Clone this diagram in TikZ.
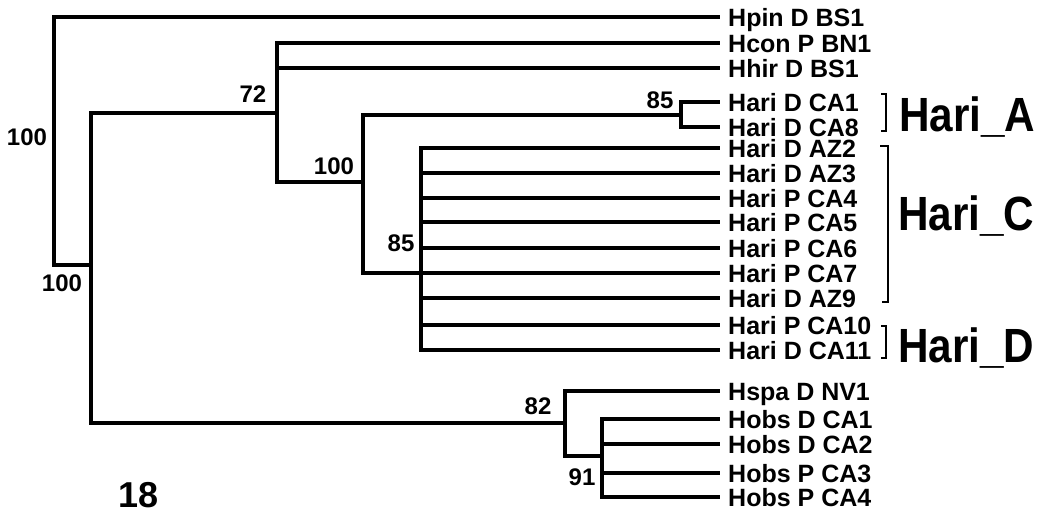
\documentclass[tikz,border=0pt]{standalone}
\usepackage{fontspec}
\setmainfont{Liberation Sans}
\usepackage{graphicx}
\tikzset{
  branch/.style={line width=3.2pt, line join=miter, line cap=butt},
  leaf/.style={anchor=west, inner xsep=8pt, inner ysep=0pt, text height=18pt, text depth=0pt, font=\fontsize{25}{25}\selectfont\bfseries},
  boot/.style={inner sep=0pt, text height=17pt, text depth=0pt, font=\fontsize{24}{24}\selectfont\bfseries},
  clade/.style={anchor=base west, inner sep=0pt, font=\fontsize{48}{48}\selectfont\bfseries},
  brk/.style={line width=1.2pt, line join=miter}
}
\begin{document}
\begin{tikzpicture}[x=1pt,y=-1pt]
\useasboundingbox (0,0) rectangle (1052,517);
% leaves
\node[leaf] (hpin) at (720,17) {Hpin D BS1};
\node[leaf] (hcon) at (720,43) {Hcon P BN1};
\node[leaf] (hhir) at (720,68) {Hhir D BS1};
\node[leaf] (ca1) at (720,102) {Hari D CA1};
\node[leaf] (ca8) at (720,127) {Hari D CA8};
\node[leaf] (az2) at (720,148) {Hari D AZ2};
\node[leaf] (az3) at (720,173) {Hari D AZ3};
\node[leaf] (ca4) at (720,198) {Hari P CA4};
\node[leaf] (ca5) at (720,222) {Hari P CA5};
\node[leaf] (ca6) at (720,248) {Hari P CA6};
\node[leaf] (ca7) at (720,273) {Hari P CA7};
\node[leaf] (az9) at (720,298) {Hari D AZ9};
\node[leaf] (ca10) at (720,325) {Hari P CA10};
\node[leaf] (ca11) at (720,350) {Hari D CA11};
\node[leaf] (hspa) at (720,391) {Hspa D NV1};
\node[leaf] (ob1) at (720,419) {Hobs D CA1};
\node[leaf] (ob2) at (720,444) {Hobs D CA2};
\node[leaf] (ob3) at (720,473) {Hobs P CA3};
\node[leaf] (ob4) at (720,497) {Hobs P CA4};
% internal nodes
\coordinate (n0) at (54,141);
\coordinate (n1) at (91,265);
\coordinate (n2) at (277,113);
\coordinate (n3) at (363,182);
\coordinate (nA) at (681,115);
\coordinate (nCD) at (421,273);
\coordinate (n5) at (565,423);
\coordinate (n6) at (602,456);
% branches
\draw[branch] (n0) |- (hpin.west);
\draw[branch] (n0) |- (n1);
\draw[branch] (n1) |- (n2);
\draw[branch] (n1) |- (n5);
\draw[branch] (n2) |- (hcon.west);
\draw[branch] (n2) |- (hhir.west);
\draw[branch] (n2) |- (n3);
\draw[branch] (n3) |- (nA);
\draw[branch] (n3) |- (nCD);
\draw[branch] (nA) |- (ca1.west);
\draw[branch] (nA) |- (ca8.west);
\foreach \l in {az2,az3,ca4,ca5,ca6,ca7,az9,ca10,ca11}
  \draw[branch] (nCD) |- (\l.west);
\draw[branch] (n5) |- (hspa.west);
\draw[branch] (n5) |- (n6);
\foreach \l in {ob1,ob2,ob3,ob4}
  \draw[branch] (n6) |- (\l.west);
% bootstrap values
\node[boot] (b0) at (27,137) {100};
\node[boot] (b1) at (62,283) {100};
\node[boot] (b2) at (253,94) {72};
\node[boot] (b3) at (334,166) {100};
\node[boot] (bA) at (660,100) {85};
\node[boot] (bCD) at (401,243) {85};
\node[boot] (b5) at (538,406) {82};
\node[boot] (b6) at (582,477) {91};
\node[inner sep=0pt, font=\fontsize{36}{36}\selectfont\bfseries] (fig) at (139,495) {18};
% clade brackets
\draw[brk] (881,94) -- (886,94) -- (886,131) -- (881,131);
\draw[brk] (880,146) -- (888,146) -- (888,302) -- (882,302);
\draw[brk] (881,326) -- (886,326) -- (886,358) -- (881,358);
\node[clade] (cA) at (899,131) {\scalebox{0.88}[1]{Hari\_A}};
\node[clade] (cC) at (898,230) {\scalebox{0.88}[1]{Hari\_C}};
\node[clade] (cD) at (898,362) {\scalebox{0.88}[1]{Hari\_D}};
\end{tikzpicture}
\end{document}
